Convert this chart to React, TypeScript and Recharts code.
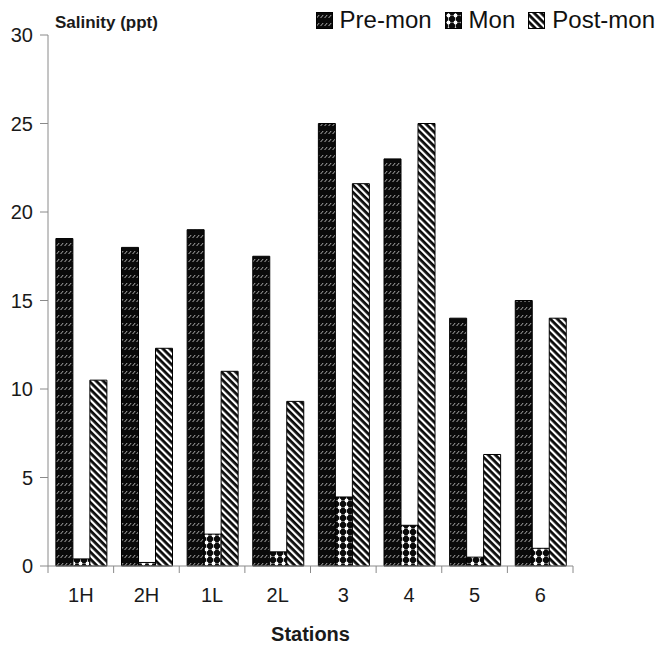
import React from 'react';
import { BarChart, Bar, XAxis, YAxis, Legend } from 'recharts';

const categories = ['1H', '2H', '1L', '2L', '3', '4', '5', '6'];
const preMon = [18.5, 18.0, 19.0, 17.5, 25.0, 23.0, 14.0, 15.0];
const mon = [0.4, 0.2, 1.8, 0.8, 3.9, 2.3, 0.5, 1.0];
const postMon = [10.5, 12.3, 11.0, 9.3, 21.6, 25.0, 6.3, 14.0];
const yTicks = [0, 5, 10, 15, 20, 25, 30];
const seriesNames = ['Pre-mon', 'Mon', 'Post-mon'];
const yTitle = 'Salinity (ppt)';
const xTitle = 'Stations';

const data = categories.map((c, i) => ({
  station: c,
  pre: preMon[i],
  mon: mon[i],
  post: postMon[i],
}));

const FONT = '"Liberation Sans", Arial, sans-serif';
const AXIS = '#8a8a8a';
const patternIds = ['pPre', 'pMon', 'pPost'];

const Patterns = () => (
  <svg width={0} height={0} style={{ position: 'absolute' }}>
    <defs>
      <pattern id="pPre" width={4} height={8} patternUnits="userSpaceOnUse">
        <rect x={0} y={0} width={4} height={8} fill="#0a0a0a" />
        <line x1={0.6} y1={6} x2={3.2} y2={3} stroke="#b0b0b0" strokeWidth={1} />
      </pattern>
      <pattern id="pMon" width={7} height={7} patternUnits="userSpaceOnUse">
        <rect x={0} y={0} width={7} height={7} fill="#0a0a0a" />
        <line x1={3.5} y1={0} x2={3.5} y2={7} stroke="#d0d0d0" strokeWidth={0.8} />
        <line x1={0} y1={3.5} x2={7} y2={3.5} stroke="#909090" strokeWidth={0.6} />
        <circle cx={3.5} cy={3.5} r={1.9} fill="#ffffff" />
      </pattern>
      <pattern id="pPost" width={5} height={5} patternUnits="userSpaceOnUse" patternTransform="rotate(-45)">
        <rect x={0} y={0} width={5} height={5} fill="#0a0a0a" />
        <rect x={0} y={0} width={2.2} height={5} fill="#ffffff" />
      </pattern>
    </defs>
  </svg>
);

const XTick = (props: any) => {
  const { x, y, payload, index, width, visibleTicksCount } = props;
  const count = visibleTicksCount || categories.length;
  const band = (width || 525) / count;
  const left = x - band / 2;
  const right = x + band / 2;
  return (
    <g>
      <line x1={left} y1={y} x2={left} y2={y + 7} stroke={AXIS} strokeWidth={1} />
      {index === count - 1 && (
        <line x1={right} y1={y} x2={right} y2={y + 7} stroke={AXIS} strokeWidth={1} />
      )}
      <text x={x} y={y + 22} dy="0.71em" textAnchor="middle" fontSize={20} fontFamily={FONT} fill="#1a1a1a">
        {payload.value}
      </text>
    </g>
  );
};

const YTitle = (props: any) => {
  const vb = props.viewBox || { x: 0, y: 35, width: 48 };
  return (
    <text x={vb.x + vb.width + 7} y={vb.y - 7} fontSize={17} fontWeight="bold" fontFamily={FONT} fill="#1a1a1a">
      {yTitle}
    </text>
  );
};

const renderLegend = () => (
  <div style={{ display: 'flex', alignItems: 'center', fontFamily: FONT, fontSize: 24, color: '#111', whiteSpace: 'nowrap', lineHeight: 'normal' }}>
    {seriesNames.map((name, i) => (
      <span key={name} style={{ display: 'flex', alignItems: 'center', marginLeft: i === 0 ? 0 : 13 }}>
        <svg width={17} height={17} style={{ display: 'block' }}>
          <rect x={0.5} y={0.5} width={16} height={16} fill={`url(#${patternIds[i]})`} stroke="#000" strokeWidth={1} />
        </svg>
        <span style={{ marginLeft: 7 }}>{name}</span>
      </span>
    ))}
  </div>
);

export default function App() {
  return (
    <div style={{ position: 'absolute', left: 0, top: 0, width: 659, height: 645, background: '#fff' }}>
      <Patterns />
      <BarChart
        width={659}
        height={645}
        data={data}
        margin={{ top: 35, right: 86, bottom: 0, left: 0 }}
        barCategoryGap="12%"
        barGap={0}
      >
        <XAxis
          dataKey="station"
          height={79}
          stroke={AXIS}
          tickLine={false}
          tickSize={0}
          tickMargin={0}
          tick={<XTick />}
          interval={0}
          label={{ value: xTitle, position: 'insideBottom', offset: 4, fontSize: 20, fontWeight: 'bold', fontFamily: FONT, fill: '#1a1a1a' }}
        />
        <YAxis
          width={48}
          domain={[0, 30]}
          ticks={yTicks}
          interval={0}
          stroke={AXIS}
          tickSize={8}
          tickMargin={7}
          tick={{ fontSize: 20, fontFamily: FONT, fill: '#1a1a1a' }}
          label={{ content: <YTitle /> }}
        />
        <Legend
          verticalAlign="middle"
          align="center"
          content={renderLegend}
          wrapperStyle={{ top: 6, right: 4, left: 'auto', bottom: 'auto', width: 'auto', height: 'auto' }}
        />
        <Bar dataKey="pre" name={seriesNames[0]} fill="url(#pPre)" stroke="#000" strokeWidth={1} isAnimationActive={false} />
        <Bar dataKey="mon" name={seriesNames[1]} fill="url(#pMon)" stroke="#000" strokeWidth={1} isAnimationActive={false} />
        <Bar dataKey="post" name={seriesNames[2]} fill="url(#pPost)" stroke="#000" strokeWidth={1} isAnimationActive={false} />
      </BarChart>
    </div>
  );
}
